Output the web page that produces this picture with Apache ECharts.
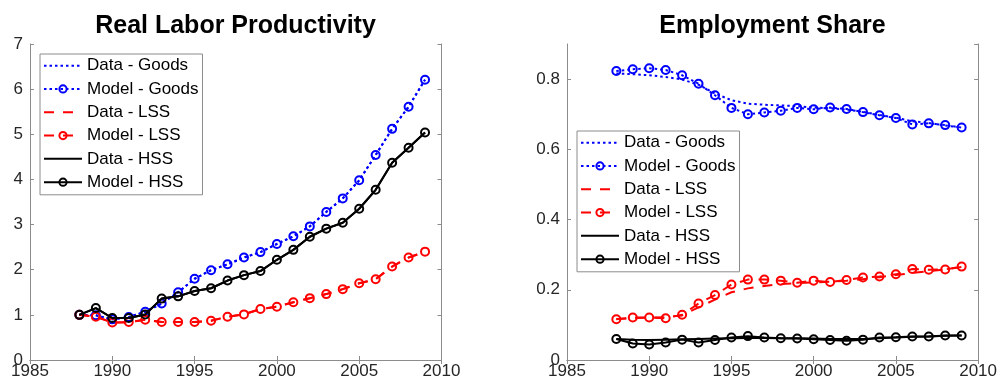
<!DOCTYPE html>
<html>
<head>
<meta charset="utf-8">
<script src="https://cdn.jsdelivr.net/npm/echarts@6/dist/echarts.min.js"></script>
<style>
  html, body { margin: 0; padding: 0; background: #fff; }
  #chart { width: 1000px; height: 388px; }
</style>
</head>
<body>
<div id="chart"></div>
<script>
// Years covered by both panels
const years = [1988, 1989, 1990, 1991, 1992, 1993, 1994, 1995, 1996, 1997, 1998,
               1999, 2000, 2001, 2002, 2003, 2004, 2005, 2006, 2007, 2008, 2009];

// Real labor productivity (index, 1988 = 1)
const prodDataGoods  = [1.00, 0.99, 0.90, 0.95, 1.07, 1.25, 1.50, 1.80, 1.99, 2.12, 2.27, 2.39, 2.57, 2.74, 2.96, 3.28, 3.58, 3.98, 4.54, 5.12, 5.61, 6.21];
const prodModelGoods = [1.00, 0.99, 0.90, 0.95, 1.07, 1.25, 1.50, 1.80, 1.99, 2.12, 2.27, 2.39, 2.57, 2.74, 2.96, 3.28, 3.58, 3.98, 4.54, 5.12, 5.61, 6.21];
const prodDataLSS    = [1.00, 0.96, 0.83, 0.84, 0.89, 0.84, 0.84, 0.84, 0.87, 0.96, 1.01, 1.13, 1.18, 1.28, 1.37, 1.46, 1.57, 1.70, 1.79, 2.07, 2.27, 2.40];
const prodModelLSS   = [1.00, 0.96, 0.83, 0.84, 0.89, 0.84, 0.84, 0.84, 0.87, 0.96, 1.01, 1.13, 1.18, 1.28, 1.37, 1.46, 1.57, 1.70, 1.79, 2.07, 2.27, 2.40];
const prodDataHSS    = [1.00, 1.15, 0.93, 0.93, 1.01, 1.36, 1.41, 1.53, 1.59, 1.76, 1.88, 1.97, 2.22, 2.44, 2.73, 2.91, 3.04, 3.35, 3.77, 4.37, 4.70, 5.04];
const prodModelHSS   = [1.00, 1.15, 0.93, 0.93, 1.01, 1.36, 1.41, 1.53, 1.59, 1.76, 1.88, 1.97, 2.22, 2.44, 2.73, 2.91, 3.04, 3.35, 3.77, 4.37, 4.70, 5.04];

// Employment shares
const empDataGoods  = [0.816, 0.814, 0.811, 0.806, 0.799, 0.784, 0.759, 0.740, 0.730, 0.727, 0.725, 0.723, 0.719, 0.717, 0.713, 0.707, 0.698, 0.690, 0.680, 0.675, 0.668, 0.662];
const empModelGoods = [0.823, 0.828, 0.831, 0.826, 0.811, 0.787, 0.754, 0.718, 0.700, 0.705, 0.710, 0.718, 0.714, 0.719, 0.715, 0.706, 0.697, 0.689, 0.671, 0.674, 0.669, 0.662];
const empDataLSS    = [0.117, 0.119, 0.121, 0.122, 0.127, 0.150, 0.172, 0.193, 0.204, 0.211, 0.216, 0.219, 0.221, 0.223, 0.226, 0.230, 0.236, 0.242, 0.248, 0.253, 0.258, 0.265];
const empModelLSS   = [0.116, 0.121, 0.121, 0.119, 0.129, 0.161, 0.185, 0.215, 0.229, 0.229, 0.226, 0.220, 0.226, 0.222, 0.228, 0.235, 0.238, 0.244, 0.259, 0.257, 0.258, 0.266];
const empDataHSS    = [0.060, 0.058, 0.057, 0.058, 0.059, 0.060, 0.061, 0.062, 0.063, 0.063, 0.062, 0.062, 0.061, 0.060, 0.060, 0.060, 0.062, 0.064, 0.066, 0.067, 0.069, 0.070];
const empModelHSS   = [0.060, 0.047, 0.044, 0.050, 0.058, 0.050, 0.057, 0.064, 0.068, 0.064, 0.062, 0.061, 0.059, 0.057, 0.055, 0.058, 0.064, 0.065, 0.067, 0.067, 0.070, 0.070];

const seriesNames = ['Data - Goods', 'Model - Goods', 'Data - LSS', 'Model - LSS', 'Data - HSS', 'Model - HSS'];
const panelTitles = ['Real Labor Productivity', 'Employment Share'];
const xTicks = { min: 1985, max: 2010, interval: 5 };
const yTicksProd = { min: 0, max: 7, interval: 1 };
const yTicksEmp = { min: 0, max: 0.9, interval: 0.2 };

const FONT = '"Liberation Sans", Arial, Helvetica, sans-serif';
const AXIS_GRAY = '#8c8c8c';
const LABEL_COLOR = '#262626';

const BLUE = '#0000ff', RED = '#ff0000', BLACK = '#000000';
const DOT = [2.5, 3];
const DASH = [10, 9];
const CLEAR = 'rgba(255,255,255,0)';

// line style per series slot: colour, dash, marker
const styles = [
  { color: BLUE,  dash: DOT,     marker: false },
  { color: BLUE,  dash: DOT,     marker: true  },
  { color: RED,   dash: DASH,    marker: false },
  { color: RED,   dash: DASH,    marker: true  },
  { color: BLACK, dash: 'solid', marker: false },
  { color: BLACK, dash: 'solid', marker: true  }
];

function pairs(vals) {
  return years.map((y, i) => [y, vals[i]]);
}

function makeSeries(panel, valuesList) {
  return valuesList.map((vals, k) => {
    const st = styles[k];
    return {
      name: seriesNames[k],
      type: 'line',
      xAxisIndex: panel * 2,
      yAxisIndex: panel * 2,
      data: pairs(vals),
      symbol: st.marker ? 'circle' : 'none',
      symbolSize: 8,
      showSymbol: st.marker,
      lineStyle: { color: st.color, width: 2, type: st.dash },
      itemStyle: { color: CLEAR, borderColor: st.color, borderWidth: 2 },
      emphasis: { disabled: true },
      animation: false,
      z: 2 + k
    };
  });
}

function xAxes(gridIndex) {
  const common = {
    type: 'value', gridIndex, min: xTicks.min, max: xTicks.max, interval: xTicks.interval,
    axisLine: { show: true, lineStyle: { color: AXIS_GRAY, width: 1 } },
    axisTick: { show: true, inside: true, length: 4, lineStyle: { color: AXIS_GRAY } },
    splitLine: { show: false }
  };
  return [
    Object.assign({}, common, {
      position: 'bottom',
      axisLabel: { show: true, color: LABEL_COLOR, fontSize: 17, fontFamily: FONT, margin: 3,
                   formatter: v => String(v) }
    }),
    Object.assign({}, common, { position: 'top', axisLabel: { show: false } })
  ];
}

function yAxes(gridIndex, ticks) {
  const common = {
    type: 'value', gridIndex, min: ticks.min, max: ticks.max, interval: ticks.interval,
    axisLine: { show: true, lineStyle: { color: AXIS_GRAY, width: 1 } },
    axisTick: { show: true, inside: true, length: 4, lineStyle: { color: AXIS_GRAY } },
    splitLine: { show: false }
  };
  return [
    Object.assign({}, common, {
      position: 'left',
      axisLabel: { show: true, color: LABEL_COLOR, fontSize: 17, fontFamily: FONT, margin: 7,
                   showMaxLabel: ticks.max % ticks.interval === 0,
                   formatter: v => String(Math.round(v * 10) / 10) }
    }),
    Object.assign({}, common, { position: 'right', axisLabel: { show: false } })
  ];
}

// legend entries: the data rows show only their line sample
function legendItems() {
  return seriesNames.map((name, k) => {
    const item = { name };
    if (!styles[k].marker) {
      item.itemStyle = { color: CLEAR, borderColor: CLEAR, borderWidth: 0, opacity: 0 };
    }
    return item;
  });
}

function legendAt(left, top) {
  return {
    orient: 'vertical',
    left, top,
    data: legendItems(),
    backgroundColor: '#ffffff',
    borderColor: '#8c8c8c',
    borderWidth: 1,
    padding: [0, 4, 1, 3],
    itemGap: 0,
    itemWidth: 38,
    itemHeight: 9,
    selectedMode: false,
    textStyle: { fontSize: 17, fontFamily: FONT, color: '#000', lineHeight: 23.3 }
  };
}

const chart = echarts.init(document.getElementById('chart'), null, { renderer: 'canvas' });

chart.setOption({
  backgroundColor: '#ffffff',
  animation: false,
  grid: [
    { left: 30, top: 44, width: 411.5, height: 316, containLabel: false },
    { left: 567, top: 44, width: 411.5, height: 316, containLabel: false }
  ],
  xAxis: [...xAxes(0), ...xAxes(1)],
  yAxis: [...yAxes(0, yTicksProd), ...yAxes(1, yTicksEmp)],
  legend: [legendAt(40, 54), legendAt(577, 131)],
  graphic: [
    { type: 'text', x: 235.5, y: 26.5,
      style: { text: panelTitles[0], font: 'bold 25px ' + FONT, fill: '#000',
               align: 'center', verticalAlign: 'middle' } },
    { type: 'text', x: 772.5, y: 26.5,
      style: { text: panelTitles[1], font: 'bold 25px ' + FONT, fill: '#000',
               align: 'center', verticalAlign: 'middle' } }
  ],
  series: [
    ...makeSeries(0, [prodDataGoods, prodModelGoods, prodDataLSS, prodModelLSS, prodDataHSS, prodModelHSS]),
    ...makeSeries(1, [empDataGoods, empModelGoods, empDataLSS, empModelLSS, empDataHSS, empModelHSS])
  ]
});
</script>
</body>
</html>
